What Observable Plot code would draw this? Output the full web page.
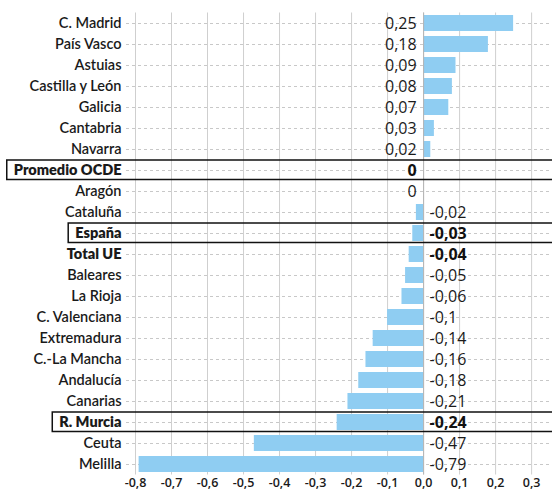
<!DOCTYPE html>
<html>
<head>
<meta charset="utf-8">
<script src="https://cdn.jsdelivr.net/npm/d3@7"></script>
<script src="https://cdn.jsdelivr.net/npm/@observablehq/plot@0.6"></script>
<style>
  html, body { margin: 0; padding: 0; background: #fff; }
  #chart svg { display: block; }
</style>
</head>
<body>
<div id="chart"></div>
<script>
const categories = ["C. Madrid", "País Vasco", "Astuias", "Castilla y León", "Galicia", "Cantabria", "Navarra",
  "Promedio OCDE", "Aragón", "Cataluña", "España", "Total UE", "Baleares", "La Rioja", "C. Valenciana",
  "Extremadura", "C.-La Mancha", "Andalucía", "Canarias", "R. Murcia", "Ceuta", "Melilla"];
const values = [0.25, 0.18, 0.09, 0.08, 0.07, 0.03, 0.02, 0, 0, -0.02, -0.03, -0.04, -0.05, -0.06, -0.1,
  -0.14, -0.16, -0.18, -0.21, -0.24, -0.47, -0.79];
const xTicks = [-0.8, -0.7, -0.6, -0.5, -0.4, -0.3, -0.2, -0.1, 0, 0.1, 0.2, 0.3];
const boxed = ["Promedio OCDE", "España", "R. Murcia"];
const bold = ["Promedio OCDE", "España", "Total UE", "R. Murcia"];

const data = categories.map((c, i) => ({cat: c, v: values[i], label: String(values[i]).replace(".", ","), bold: bold.includes(c)}));

const labelFont = "Lato, 'DejaVu Sans Condensed', sans-serif";
const valueFont = "'Open Sans', 'Noto Sans', sans-serif";
const fmt = d => d.toFixed(1).replace(".", ",");

const W = 557, H = 491, rightEdge = 552;

const plot = Plot.plot({
  width: W,
  height: H,
  marginLeft: 126,
  marginRight: 5,
  marginTop: 12.5,
  marginBottom: 16.5,
  style: {background: "#fff", color: "#1a1a1a"},
  x: {domain: [-0.825, 0.358], label: null},
  y: {domain: categories, paddingInner: 0.24, paddingOuter: 0.12, label: null},
  marks: [
    Plot.ruleX(xTicks, {stroke: "#cfcfcf", strokeWidth: 1}),
    Plot.ruleY(categories, {y: d => d, stroke: "#c8c8c8", strokeDasharray: "3,3", strokeWidth: 1}),
    Plot.barX(data, {x: "v", y: "cat", fill: "#8fcdf2"}),
    Plot.ruleX([0], {stroke: "#b5b5b5", strokeWidth: 1}),
    Plot.text(data.filter(d => d.v >= 0 && !d.bold), {x: 0, y: "cat", text: "label", dx: -7, textAnchor: "end", fontSize: 16, fontFamily: valueFont, fill: "#1a1a1a"}),
    Plot.text(data.filter(d => d.v >= 0 && d.bold), {x: 0, y: "cat", text: "label", dx: -7, textAnchor: "end", fontSize: 16, fontWeight: 700, fontFamily: valueFont, fill: "#111"}),
    Plot.text(data.filter(d => d.v < 0 && !d.bold), {x: 0, y: "cat", text: "label", dx: 6, textAnchor: "start", fontSize: 16, fontFamily: valueFont, fill: "#1a1a1a"}),
    Plot.text(data.filter(d => d.v < 0 && d.bold), {x: 0, y: "cat", text: "label", dx: 6, textAnchor: "start", fontSize: 16, fontWeight: 700, fontFamily: valueFont, fill: "#111"}),
    Plot.axisY({tickSize: 0, tickPadding: 5, fontSize: 14.5, fontWeight: 600, fontFamily: labelFont, label: null}),
    Plot.axisX({ticks: xTicks, tickFormat: fmt, tickSize: 0, tickPadding: 3, fontSize: 12.5, fontWeight: 600, fontFamily: valueFont, label: null})
  ]
});

document.getElementById("chart").appendChild(plot);

// bold labels & boxes
const y = plot.scale("y");
const svg = d3.select(plot);
svg.selectAll('g[aria-label="y-axis tick label"] text').each(function() {
  const t = this.textContent;
  if (bold.includes(t)) d3.select(this).attr("font-weight", 800);
});
const boxLayer = svg.append("g");
svg.selectAll('g[aria-label="y-axis tick label"] text').each(function() {
  const t = this.textContent;
  if (!boxed.includes(t)) return;
  const bb = this.getBBox();
  const m = this.getCTM();
  const x0 = bb.x + (m ? m.e : 0) - 7;
  const cy = y.apply(t) + y.bandwidth / 2;
  const top = cy - 10, bottom = cy + 9.5;
  boxLayer.append("path")
    .attr("d", `M${rightEdge},${top}H${x0}V${bottom}H${rightEdge}`)
    .attr("fill", "none").attr("stroke", "#111").attr("stroke-width", 1.5);
});
</script>
</body>
</html>
